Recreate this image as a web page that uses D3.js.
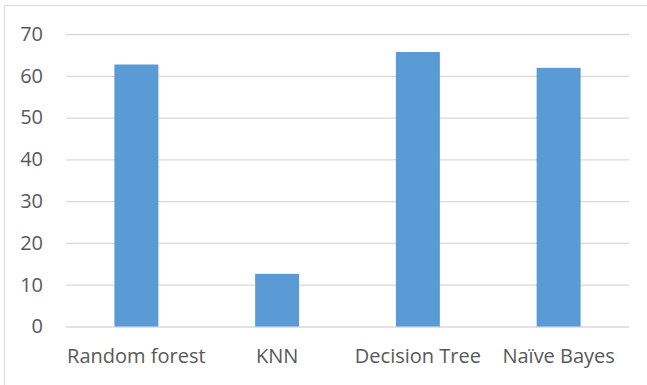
<!DOCTYPE html>
<html>
<head>
<meta charset="utf-8">
<script src="https://cdn.jsdelivr.net/npm/d3@7/dist/d3.min.js"></script>
<style>
  html, body { margin: 0; padding: 0; background: #fff; }
  svg { display: block; }
  text { font-family: "Open Sans", "Liberation Sans", sans-serif; fill: #595959; }
</style>
</head>
<body>
<svg id="chart" width="647" height="385"></svg>
<script>
// Accuracy per classifier
const categories = ["Random forest", "KNN", "Decision Tree", "Naïve Bayes"];
const values = [62.7, 12.6, 65.7, 61.9];
const yTicks = [0, 10, 20, 30, 40, 50, 60, 70];

const W = 647, H = 385;
const plot = { left: 66, right: 629, top: 34, bottom: 326.5 };

const svg = d3.select("#chart");

// chart area frame
svg.append("rect")
  .attr("x", 4.5).attr("y", 5.5)
  .attr("width", W + 10).attr("height", H + 10)
  .attr("fill", "#fff")
  .attr("stroke", "#d9d9d9")
  .attr("stroke-width", 1);

const x = d3.scaleBand()
  .domain(categories)
  .range([plot.left, plot.right])
  .paddingInner(0.6875)
  .paddingOuter(0.34375);

const y = d3.scaleLinear()
  .domain([0, 70])
  .range([plot.bottom, plot.top]);

// horizontal gridlines + value labels
const yAxis = d3.axisLeft(y)
  .tickValues(yTicks)
  .tickSize(-(plot.right - plot.left))
  .tickPadding(23)
  .tickFormat(d3.format("d"));

const gy = svg.append("g")
  .attr("transform", `translate(${plot.left},0)`)
  .call(yAxis);
gy.select(".domain").remove();
gy.selectAll(".tick line")
  .attr("stroke", "#d9d9d9")
  .attr("stroke-width", 1.3);
gy.selectAll(".tick text")
  .attr("font-size", 20)
  .attr("fill", "#595959");

// bars
svg.append("g")
  .selectAll("rect")
  .data(values)
  .join("rect")
  .attr("x", (d, i) => x(categories[i]))
  .attr("y", d => y(d))
  .attr("width", x.bandwidth())
  .attr("height", d => y(0) - y(d))
  .attr("fill", "#5b9bd5");

// category labels
const xAxis = d3.axisBottom(x).tickSize(0).tickPadding(22);
const gx = svg.append("g")
  .attr("transform", `translate(0,${plot.bottom})`)
  .call(xAxis);
gx.select(".domain").remove();
gx.selectAll(".tick text")
  .attr("font-size", 20)
  .attr("fill", "#595959");
</script>
</body>
</html>
